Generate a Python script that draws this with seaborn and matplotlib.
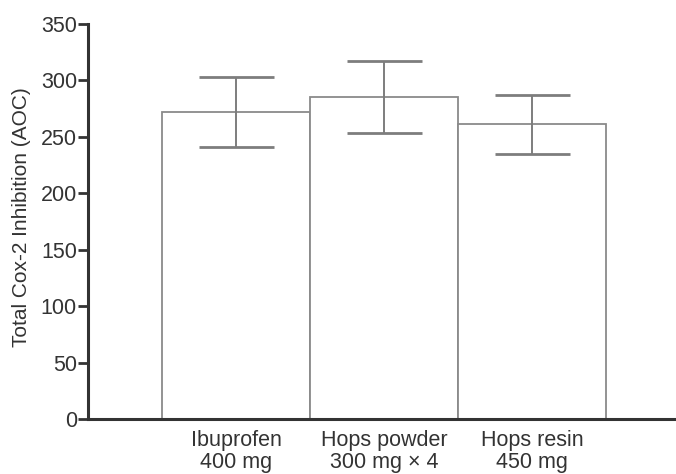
import matplotlib
matplotlib.use("Agg")
import matplotlib.pyplot as plt
import seaborn as sns
import pandas as pd

categories = ["Ibuprofen\n400 mg", "Hops powder\n300 mg \u00d7 4", "Hops resin\n450 mg"]
means = [272, 285, 261]
errors = [31, 32, 26]
y_ticks = [0, 50, 100, 150, 200, 250, 300, 350]

sns.set_style("ticks")
plt.rcParams["font.family"] = ["Liberation Sans", "DejaVu Sans"]

df = pd.DataFrame({"treatment": categories, "aoc": means})

fig = plt.figure(figsize=(6.76, 4.74), dpi=100)
ax = fig.add_axes([88 / 676, 55 / 474, 588 / 676, 395 / 474])

edge = "#8a8a8a"
sns.barplot(data=df, x="treatment", y="aoc", ax=ax, width=1.0,
            color="white", edgecolor=edge, linewidth=1.3, errorbar=None)
ax.errorbar(range(len(categories)), means, yerr=errors, fmt="none",
            ecolor="#7d7d7d", elinewidth=1.4, capsize=27, capthick=2.0)

ax.set_xlim(-1.0, 2.97)
ax.set_ylim(0, 350)
ax.set_yticks(y_ticks)
ax.set_ylabel("Total Cox-2 Inhibition (AOC)", fontsize=15, color="#333333")
ax.yaxis.set_label_coords(-0.097, 0.51)
ax.set_xlabel("")
ax.tick_params(axis="y", length=7, width=2, color="#333333", labelsize=15.5,
               labelcolor="#333333", pad=1)
ax.tick_params(axis="x", length=0, labelsize=15.5, labelcolor="#333333", pad=8)
for lbl in ax.get_xticklabels():
    lbl.set_linespacing(1.05)
for side in ["top", "right"]:
    ax.spines[side].set_visible(False)
for side in ["left", "bottom"]:
    ax.spines[side].set_linewidth(2.2)
    ax.spines[side].set_color("#333333")

fig.savefig("out.png", dpi=100)
